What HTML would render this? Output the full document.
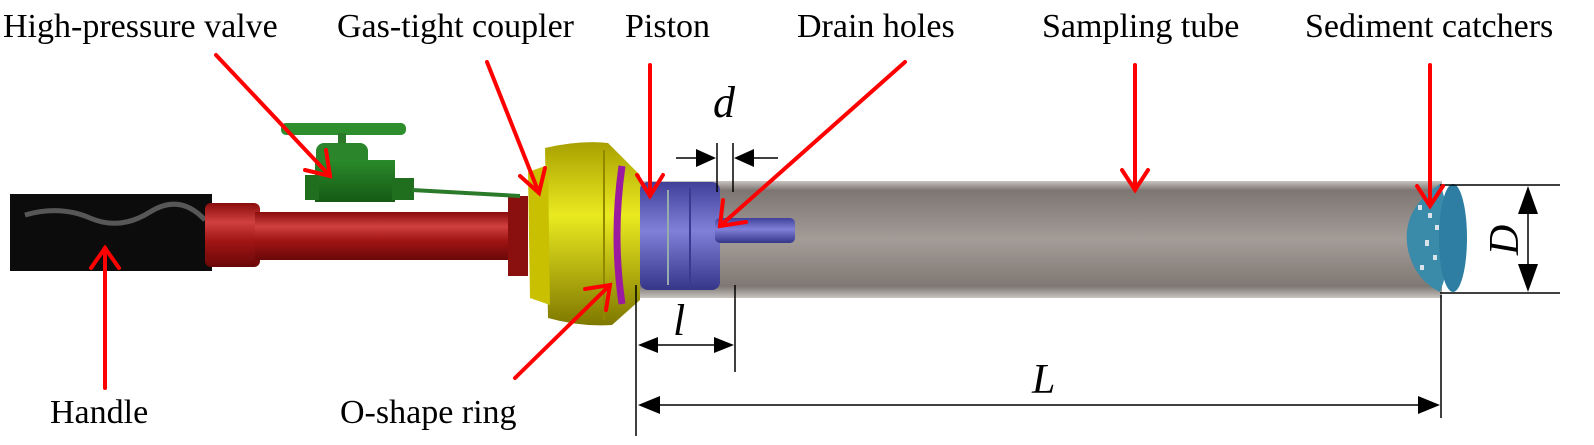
<!DOCTYPE html>
<html><head><style>
html,body{margin:0;padding:0;background:#fff;}
svg{display:block;}
text{font-family:"Liberation Serif",serif;fill:#000;}
</style></head><body>
<svg width="1594" height="445" viewBox="0 0 1594 445" xmlns="http://www.w3.org/2000/svg">
<defs>
<linearGradient id="tube" x1="0" y1="0" x2="0" y2="1">
<stop offset="0" stop-color="#c8c4c0"/><stop offset="0.08" stop-color="#7d7672"/><stop offset="0.5" stop-color="#a39c97"/><stop offset="0.9" stop-color="#7f7873"/><stop offset="1" stop-color="#c8c4c0"/></linearGradient>
<linearGradient id="red" x1="0" y1="0" x2="0" y2="1">
<stop offset="0" stop-color="#8a0c0c"/><stop offset="0.3" stop-color="#d04040"/><stop offset="0.6" stop-color="#a01414"/><stop offset="1" stop-color="#6a0808"/></linearGradient>
<linearGradient id="yel" x1="0" y1="0" x2="0" y2="1">
<stop offset="0" stop-color="#a8a000"/><stop offset="0.4" stop-color="#eaea20"/><stop offset="1" stop-color="#7f7800"/></linearGradient>
<linearGradient id="blue" x1="0" y1="0" x2="0" y2="1">
<stop offset="0" stop-color="#40409a"/><stop offset="0.45" stop-color="#8080d8"/><stop offset="1" stop-color="#35358a"/></linearGradient>
<linearGradient id="grn" x1="0" y1="0" x2="0" y2="1">
<stop offset="0" stop-color="#2a8a2a"/><stop offset="1" stop-color="#155a15"/></linearGradient>
</defs>

<rect x="10" y="194" width="202" height="77" fill="#0c0c0c"/>
<path d="M25 215 Q60 205 90 218 T150 212 T205 220" stroke="#777" stroke-width="5" fill="none" opacity="0.7"/>

<rect x="205" y="203" width="55" height="64" rx="6" fill="url(#red)"/>
<rect x="255" y="212" width="265" height="48" fill="url(#red)"/>
<rect x="508" y="196" width="20" height="80" fill="#8a1010"/>

<rect x="281" y="123" width="125" height="12" rx="5" fill="#2e8e2e"/>
<rect x="338" y="133" width="8" height="18" fill="#2a7a2a"/>
<rect x="316" y="143" width="52" height="24" rx="8" fill="#2b862b"/>
<rect x="315" y="160" width="80" height="42" fill="url(#grn)"/>
<rect x="305" y="175" width="14" height="25" fill="#1f6f1f"/>
<rect x="392" y="178" width="22" height="22" fill="#1f6f1f"/>
<line x1="412" y1="190" x2="520" y2="196" stroke="#2a7a2a" stroke-width="4"/>

<rect x="632" y="181" width="810" height="117" fill="url(#tube)"/>
<rect x="640" y="182" width="80" height="108" rx="8" fill="url(#blue)"/>
<line x1="668" y1="190" x2="668" y2="285" stroke="#9aa" stroke-width="2"/>
<line x1="690" y1="188" x2="690" y2="288" stroke="#3a3a90" stroke-width="2"/>
<rect x="715" y="218" width="80" height="25" rx="5" fill="url(#blue)"/>
<path d="M545 148 Q580 140 608 143 L640 175 L640 300 L612 325 Q580 327 548 318 Z" fill="url(#yel)"/>
<path d="M528 172 L548 165 L550 305 L530 298 Z" fill="#c8c000"/>
<line x1="604" y1="150" x2="604" y2="320" stroke="#8f8800" stroke-width="2"/>
<path d="M622 166 Q612 235 622 304" stroke="#9a1aa0" stroke-width="7" fill="none"/>
<path d="M1440 184 Q1400 210 1408 250 Q1415 280 1440 292 Q1460 240 1440 184 Z" fill="#3a8aaa"/>
<ellipse cx="1453" cy="238" rx="14" ry="54" fill="#2d7ea2"/>
<g fill="#d8e4ea"><rect x="1418" y="205" width="4" height="5"/><rect x="1428" y="213" width="4" height="5"/><rect x="1425" y="240" width="4" height="6"/><rect x="1420" y="265" width="4" height="5"/><rect x="1433" y="255" width="4" height="5"/><rect x="1435" y="225" width="4" height="5"/></g>

<g stroke="#000" stroke-width="1.5" fill="none">
<line x1="1440" y1="185" x2="1560" y2="185"/>
<line x1="1440" y1="293" x2="1560" y2="293"/>
<line x1="1528" y1="200" x2="1528" y2="278"/>
<line x1="636" y1="285" x2="636" y2="436"/>
<line x1="1441" y1="295" x2="1441" y2="418"/>
<line x1="655" y1="405" x2="1425" y2="405"/>
<line x1="735" y1="285" x2="735" y2="372"/>
<line x1="655" y1="345" x2="720" y2="345"/>
<line x1="717" y1="143" x2="717" y2="192"/>
<line x1="733" y1="143" x2="733" y2="192"/>
<line x1="676" y1="158" x2="700" y2="158"/>
<line x1="750" y1="158" x2="778" y2="158"/>
</g>
<g fill="#000">
<polygon points="1528,186 1518,214 1538,214"/>
<polygon points="1528,292 1518,264 1538,264"/>
<polygon points="638,405 660,396 660,414"/>
<polygon points="1440,405 1418,396 1418,414"/>
<polygon points="638,345 658,337 658,353"/>
<polygon points="734,345 714,337 714,353"/>
<polygon points="716,158 696,149 696,167"/>
<polygon points="734,158 754,149 754,167"/>
</g>
<text x="713" y="117" font-size="44" font-style="italic">d</text>
<text x="673" y="335" font-size="44" font-style="italic">l</text>
<text x="1032" y="393" font-size="42" font-style="italic">L</text>
<text transform="translate(1518,240) rotate(-90)" font-size="42" font-style="italic" text-anchor="middle">D</text>

<g stroke="#ff0000" stroke-width="4" fill="none" stroke-linecap="round">
<line x1="216" y1="55" x2="330" y2="176"/><polyline points="305,170 330,176 326,150"/>
<line x1="487" y1="62" x2="539" y2="193"/><polyline points="520,176 539,193 545,168"/>
<line x1="650" y1="65" x2="650" y2="196"/><polyline points="637,175 650,196 663,175"/>
<line x1="905" y1="62" x2="720" y2="226"/><polyline points="723,200 720,226 746,222"/>
<line x1="1135" y1="65" x2="1135" y2="190"/><polyline points="1122,170 1135,190 1148,170"/>
<line x1="1430" y1="65" x2="1430" y2="206"/><polyline points="1417,186 1430,206 1443,186"/>
<line x1="105" y1="388" x2="105" y2="248"/><polyline points="91,268 105,248 119,268"/>
<line x1="515" y1="378" x2="610" y2="285"/><polyline points="585,289 610,285 606,310"/>
</g>

<g font-size="34">
<text x="3" y="37">High-pressure valve</text>
<text x="337" y="37">Gas-tight coupler</text>
<text x="625" y="37">Piston</text>
<text x="797" y="37">Drain holes</text>
<text x="1042" y="37">Sampling tube</text>
<text x="1305" y="37">Sediment catchers</text>
<text x="50" y="423">Handle</text>
<text x="340" y="423">O-shape ring</text>
</g>
</svg>
</body></html>
